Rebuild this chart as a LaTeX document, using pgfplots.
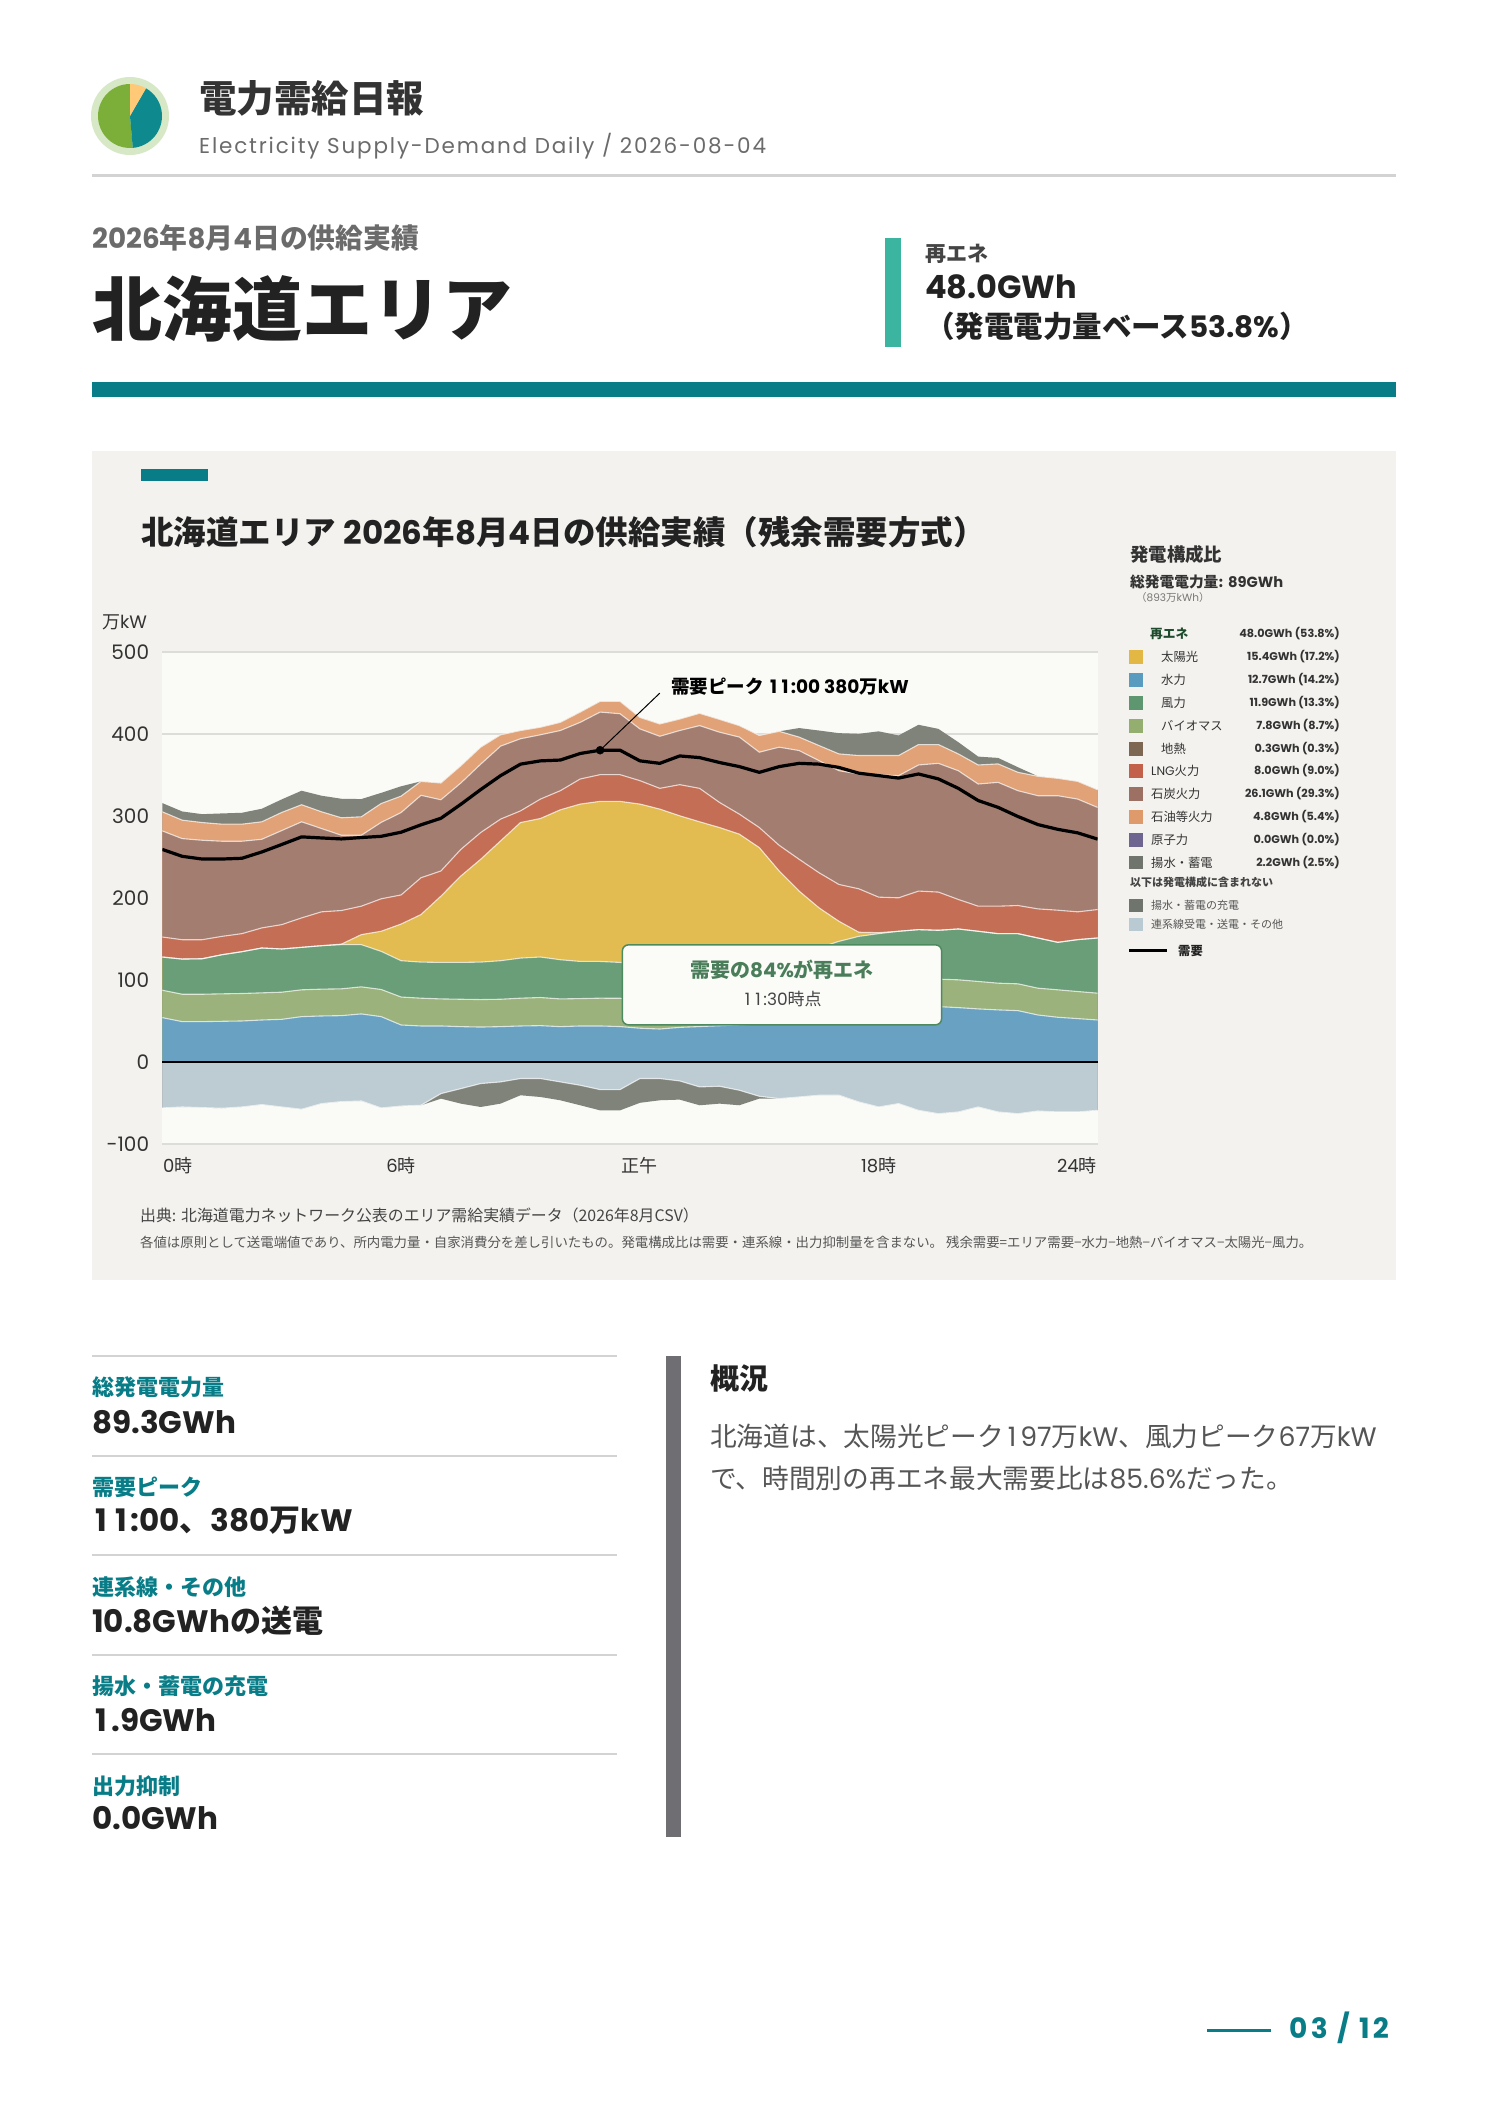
\documentclass[border=0pt]{standalone}
\usepackage{fontspec}
\setmainfont{Noto Sans CJK JP}
\newfontfamily\lat{Poppins}[Numbers=Monospaced]
\newfontfamily\latls{Poppins}[LetterSpace=8.5]
\newfontfamily\latft{Poppins}[LetterSpace=12, Numbers=Monospaced]
\usepackage{pgfplots}
\pgfplotsset{compat=1.18}
\usepackage{pgfplotstable}
\newcommand{\fz}[1]{\fontsize{#1bp}{#1bp}\selectfont}
\newcommand{\wone}{\makebox[0.62em][c]{1}}

\definecolor{cpanel}{HTML}{F3F2EE}
\definecolor{cplot}{HTML}{FAFAF6}
\definecolor{cgrid}{HTML}{DCDCD8}
\definecolor{csolar}{HTML}{E2BC50}
\definecolor{chydro}{HTML}{68A1C1}
\definecolor{cwind}{HTML}{6A9E78}
\definecolor{cbio}{HTML}{9BB27C}
\definecolor{clng}{HTML}{C46E56}
\definecolor{ccoal}{HTML}{A27D70}
\definecolor{coil}{HTML}{E0A276}
\definecolor{cpump}{HTML}{7F837A}
\definecolor{cint}{HTML}{BDCCD3}
\definecolor{sSolar}{HTML}{E3B743}
\definecolor{sHydro}{HTML}{5A9CBF}
\definecolor{sWind}{HTML}{5E9670}
\definecolor{sBio}{HTML}{93AE6E}
\definecolor{sGeo}{HTML}{7E6752}
\definecolor{sLng}{HTML}{C2604A}
\definecolor{sCoal}{HTML}{9C7164}
\definecolor{sOil}{HTML}{DE9A6A}
\definecolor{sNuc}{HTML}{6E6690}
\definecolor{sPump}{HTML}{6F746C}
\definecolor{sInt}{HTML}{B9CAD3}
\definecolor{cteal}{HTML}{087D87}
\definecolor{ctealg}{HTML}{3BB5A0}
\definecolor{cboxg}{HTML}{4E8A60}
\definecolor{ctxtg}{HTML}{4A7D59}
\definecolor{cdkg}{HTML}{1D4B2C}
\definecolor{c222}{HTML}{222222}
\definecolor{c333}{HTML}{333333}
\definecolor{c444}{HTML}{444444}
\definecolor{c555}{HTML}{555555}
\definecolor{c666}{HTML}{6B6B6B}
\definecolor{c777}{HTML}{777777}
\definecolor{crule}{HTML}{D3D3D3}
\definecolor{cbar}{HTML}{6F6F73}
\definecolor{lgreen}{HTML}{7BAF3A}
\definecolor{lring}{HTML}{D6E8C6}
\definecolor{lteal}{HTML}{0E8A8E}
\definecolor{lyellow}{HTML}{FFC978}
\definecolor{cbox}{HTML}{FBFBF8}

% cumulative upper boundaries of each layer (万kW), demand, and negative layers
\pgfplotstableread{
t hyd bio wind solar lng coal oil pump dem n1 n2
0 53.9 87.3 127.8 127.8 152.2 281.6 304.9 315.5 259.0 -56.3 -56.3
0.5 49.0 82.4 125.3 125.3 148.9 272.2 294.7 305.3 250.6 -55.1 -55.1
1 49.0 82.4 125.7 125.7 148.9 270.2 291.8 302.0 247.3 -55.9 -55.9
1.5 49.4 82.9 130.6 130.6 153.0 269.0 289.8 302.9 247.3 -56.7 -56.7
2 49.8 83.3 134.3 134.3 156.3 269.0 289.8 303.7 248.2 -55.1 -55.1
2.5 51.0 84.1 138.8 138.8 163.3 271.4 292.7 308.6 255.9 -52.2 -52.2
3 51.8 84.9 137.6 137.6 167.3 282.0 304.1 320.0 265.0 -55.1 -55.1
3.5 55.1 87.8 139.6 139.6 175.5 292.7 313.5 330.6 274.3 -57.9 -57.9
4 55.9 88.6 141.6 141.6 182.9 284.5 304.9 324.5 273.0 -51.0 -51.0
4.5 56.3 89.0 142.9 143.5 184.5 276.3 297.6 320.8 271.8 -48.6 -48.6
5 58.4 91.4 142.9 155.1 189.8 276.3 298.8 320.4 273.5 -47.8 -47.8
5.5 55.1 88.2 134.7 159.2 198.8 292.0 315.0 328.0 275.0 -56.3 -56.3
6 44.9 79.0 123.3 168.0 203.5 304.0 324.0 336.0 280.0 -54.0 -54.0
6.5 43.7 77.6 121.6 179.6 224.5 325.0 342.0 342.0 289.0 -53.0 -53.0
7 43.7 76.7 121.2 202.0 232.7 319.6 340.0 340.0 297.0 -38.8 -44.9
7.5 42.9 76.3 121.2 226.5 259.0 340.0 361.0 361.0 314.0 -32.7 -51.0
8 42.4 75.9 121.6 247.0 279.6 363.0 383.7 383.7 332.0 -26.5 -55.1
8.5 42.9 76.3 123.3 269.4 296.0 385.0 398.8 398.8 349.0 -24.5 -51.0
9 43.7 77.6 126.5 291.8 306.0 394.0 404.0 404.0 363.0 -20.4 -40.8
9.5 44.1 78.4 127.8 296.7 320.4 398.8 408.0 408.0 367.0 -20.4 -42.9
10 42.9 76.7 124.5 307.3 330.6 404.0 414.0 414.0 368.0 -24.5 -46.9
10.5 43.7 77.1 122.4 314.3 344.9 414.0 426.5 426.5 376.0 -28.6 -53.0
11 43.7 77.6 122.4 317.6 350.2 426.5 439.6 439.6 380.0 -33.9 -59.2
11.5 43.0 77.5 121.2 317.6 350.2 424.5 439.6 439.6 380.0 -33.9 -59.2
12 41.0 76.0 120.0 314.3 342.9 406.0 420.0 420.0 367.0 -20.4 -50.0
12.5 40.0 76.0 120.0 308.2 333.5 397.0 412.0 412.0 364.0 -20.4 -46.9
13 42.0 77.0 121.0 300.0 338.0 404.0 418.0 418.0 373.0 -23.3 -46.1
13.5 43.0 78.0 122.0 292.7 333.5 410.0 425.0 425.0 371.0 -30.6 -53.0
14 44.0 79.0 124.0 285.7 316.3 402.0 417.6 417.6 365.0 -29.8 -51.0
14.5 45.0 80.0 126.0 277.6 302.0 396.0 410.0 410.0 360.0 -34.7 -53.0
15 46.0 81.0 128.0 261.2 285.7 377.6 398.0 398.0 353.0 -42.0 -44.9
15.5 47.0 82.0 131.0 232.7 264.0 383.7 403.0 403.0 360.0 -44.9 -44.9
16 48.0 83.0 135.0 208.2 247.0 379.6 396.0 407.0 364.0 -42.9 -42.9
16.5 50.0 85.0 139.0 187.8 230.6 367.3 385.7 404.0 363.0 -40.8 -40.8
17 52.0 88.0 146.9 171.4 216.3 355.0 375.5 400.8 359.0 -40.8 -40.8
17.5 55.0 92.0 153.0 158.0 211.0 351.0 373.5 400.0 352.0 -49.0 -49.0
18 58.0 95.0 156.3 157.5 200.8 350.0 373.5 403.0 349.0 -55.1 -55.1
18.5 62.0 98.0 159.2 159.2 200.0 349.0 373.5 398.0 346.0 -51.0 -51.0
19 65.0 100.0 161.2 161.2 208.2 362.0 386.9 411.0 351.0 -59.2 -59.2
19.5 67.3 100.8 160.4 160.4 207.0 364.0 386.9 406.0 345.0 -63.3 -63.3
20 66.1 100.0 162.0 162.0 198.0 355.0 375.5 389.8 333.5 -61.2 -61.2
20.5 64.5 98.0 159.2 159.2 189.8 338.8 362.0 372.2 318.6 -55.1 -55.1
21 63.3 95.9 156.3 156.3 189.8 340.8 363.3 370.6 310.3 -61.2 -61.2
21.5 62.4 95.1 156.3 156.3 190.6 330.6 353.0 359.2 299.1 -63.3 -63.3
22 57.1 89.8 151.0 151.0 186.5 324.5 348.2 348.2 289.3 -60.0 -60.0
22.5 54.3 87.8 145.7 145.7 184.9 324.5 345.7 345.7 283.5 -61.2 -61.2
23 52.7 85.7 149.0 149.0 182.9 320.4 342.0 342.0 279.2 -61.2 -61.2
23.5 51.0 83.7 151.0 151.0 185.7 310.2 331.8 331.8 271.6 -59.2 -59.2
}\supply

\begin{document}
\begin{tikzpicture}
\path[use as bounding box, fill=white] (0bp,0bp) rectangle (1488bp,-2105bp);

% ---------- header ----------
\fill[lring] (130bp,-116bp) circle (39bp);
\fill[lgreen] (130bp,-116bp) -- ++(90:32bp) arc[start angle=90, end angle=275, radius=32bp] -- cycle;
\fill[lteal] (130bp,-116bp) -- ++(275:32bp) arc[start angle=275, end angle=420, radius=32bp] -- cycle;
\fill[lyellow] (130bp,-116bp) -- ++(60:32bp) arc[start angle=60, end angle=90, radius=32bp] -- cycle;

\begin{scope}[x=1bp,y=-1bp, every node/.style={inner sep=0pt}]
\node[anchor=west, text=c333, font=\fz{37.5}\bfseries] at (199,98) {電力需給日報};
\node[anchor=west, text=c666, font=\latls\fz{21.5}] at (199,146) {Electricity Supply-Demand Daily / 2026-08-04};
\fill[crule] (92,173.8) rectangle (1396,176.5);

\node[anchor=west, text=c666, font=\fz{27.8}\bfseries] at (92,238) {{\lat 2026}年{\lat 8}月{\lat 4}日の供給実績};
\node[anchor=west, text=c222, font=\fz{70}\bfseries] at (92,309) {北海道エリア};

\fill[ctealg] (885,238) rectangle (901,347);
\node[anchor=west, text=c444, font=\fz{21}\bfseries] at (925,254) {再エネ};
\node[anchor=west, text=c222, font=\lat\fz{32}\bfseries] at (925,287) {48.0GWh};
\node[anchor=west, text=c222, font=\fz{29.5}\bfseries] at (925,326) {（発電電力量ベース{\lat 53.8\%}）};

\fill[cteal] (92,382) rectangle (1396,397);

% ---------- chart panel ----------
\fill[cpanel] (92,451) rectangle (1396,1280);
\fill[cteal] (141,469) rectangle (208,481);
\node[anchor=west, text=c222, font=\fz{32.5}\bfseries] at (141,532) {北海道エリア {\lat 2026}年{\lat 8}月{\lat 4}日の供給実績（残余需要方式）};
\node[anchor=west, text=c333, font=\fz{18}] at (102,622) {万{\lat kW}};
\node[anchor=west, text=c333, font=\fz{18}] at (163,1166) {{\lat 0}時};
\node[anchor=east, text=c333, font=\fz{18}] at (1097,1166) {{\lat 24}時};
\end{scope}

\begin{axis}[
  at={(162.3bp,-1143.8bp)}, anchor=south west,
  scale only axis, width=935.3bp, height=492bp,
  xmin=0, xmax=23.5, ymin=-100, ymax=500,
  axis background/.style={fill=cplot},
  axis line style={draw=none},
  major tick style={draw=none},
  ytick={-100,0,100,200,300,400,500},
  yticklabels={-100,0,100,200,300,400,500},
  yticklabel style={font=\lat\fz{20}, text=c333, anchor=east, inner sep=0pt, xshift=-13bp},
  xtick={6,12,18},
  xticklabels={{\lat 6}時,正午,{\lat 18}時},
  xticklabel style={font=\fz{18}, text=c333, anchor=center, inner sep=0pt, yshift=-22bp},
  ymajorgrids, grid style={draw=cgrid, line width=1.5bp},
  clip mode=individual,
]
% stacked supply (painted from the top boundary down)
\addplot[fill=cpump, draw=none] table[x=t,y=pump]{\supply} \closedcycle;
\addplot[fill=coil, draw=none] table[x=t,y=oil]{\supply} \closedcycle;
\addplot[fill=ccoal, draw=none] table[x=t,y=coal]{\supply} \closedcycle;
\addplot[fill=clng, draw=none] table[x=t,y=lng]{\supply} \closedcycle;
\addplot[fill=csolar, draw=none] table[x=t,y=solar]{\supply} \closedcycle;
\addplot[fill=cwind, draw=none] table[x=t,y=wind]{\supply} \closedcycle;
\addplot[fill=cbio, draw=none] table[x=t,y=bio]{\supply} \closedcycle;
\addplot[fill=chydro, draw=none] table[x=t,y=hyd]{\supply} \closedcycle;
% negative side
\addplot[fill=cpump, draw=none] table[x=t,y=n2]{\supply} \closedcycle;
\addplot[fill=cint, draw=none] table[x=t,y=n1]{\supply} \closedcycle;
% separators
\pgfplotsinvokeforeach{oil,coal,lng,solar,wind,bio,hyd,n1}{
  \addplot[draw=white, line width=1.1bp, opacity=0.7] table[x=t,y=#1]{\supply};
}
\draw[black, line width=2.6bp] (axis cs:0,0) -- (axis cs:23.5,0);
% demand
\addplot[black, line width=3.2bp, line join=round] table[x=t,y=dem]{\supply};
\addplot[only marks, mark=*, mark size=4bp, black] coordinates {(11,380)};
\draw[black, line width=1bp] (axis cs:11,380) -- (axis cs:12.5,449.6);
\node[anchor=west, inner sep=0pt, text=black, font=\fz{18.5}\bfseries] at (axis cs:12.78,457.5) {需要ピーク {\lat \wone\wone:00 380}万{\lat kW}};
% callout box
\draw[cboxg, line width=1.5bp, fill=cbox, rounded corners=6bp] (axis cs:11.56,142.6) rectangle (axis cs:19.58,45.1);
\node[inner sep=0pt, text=ctxtg, font=\fz{20}\bfseries] at (axis cs:15.57,111.8) {需要の{\lat 84\%}が再エネ};
\node[inner sep=0pt, text=c444, font=\fz{17}] at (axis cs:15.57,77.1) {{\lat \wone\wone:30}時点};
\end{axis}

\begin{scope}[x=1bp,y=-1bp, every node/.style={inner sep=0pt}]
% ---------- legend ----------
\node[anchor=west, text=c333, font=\fz{18.4}\bfseries] at (1130,554) {発電構成比};
\node[anchor=west, text=c333, font=\fz{14.7}\bfseries] at (1130,581.5) {総発電電力量: {\lat 89GWh}};
\node[anchor=west, text=c777, font=\fz{10.5}] at (1136,597.5) {（{\lat 893}万{\lat kWh}）};

\node[anchor=west, text=cdkg, font=\fz{12.7}\bfseries] at (1150,633.7) {再エネ};
\node[anchor=east, text=c333, font=\lat\fz{11.2}\bfseries] at (1340,633.7) {48.0GWh (53.8\%)};

\foreach \yy/\cc/\xx/\lab/\val in {
  657/sSolar/1161/太陽光/15.4GWh (17.2\%),
  680/sHydro/1161/水力/12.7GWh (14.2\%),
  703/sWind/1161/風力/11.9GWh (13.3\%),
  726/sBio/1161/バイオマス/7.8GWh (8.7\%),
  749/sGeo/1161/地熱/0.3GWh (0.3\%),
  771/sLng/1151/{\lat LNG}火力/8.0GWh (9.0\%),
  794/sCoal/1151/石炭火力/26.1GWh (29.3\%),
  817/sOil/1151/石油等火力/4.8GWh (5.4\%),
  840/sNuc/1151/原子力/0.0GWh (0.0\%),
  862.7/sPump/1151/揚水・蓄電/2.2GWh (2.5\%)}{
  \fill[\cc] (1129,\yy-6.7) rectangle (1143,\yy+6.7);
  \node[anchor=west, text=c333, font=\fz{12.3}] at (\xx,\yy) {\lab};
  \node[anchor=east, text=c333, font=\lat\fz{11.2}\bfseries] at (1340,\yy) {\val};
}
\node[anchor=west, text=c444, font=\fz{11}\bfseries] at (1130,882) {以下は発電構成に含まれない};
\fill[sPump] (1129,899) rectangle (1143,912);
\node[anchor=west, text=c555, font=\fz{11}] at (1151,905.5) {揚水・蓄電の充電};
\fill[sInt] (1129,918) rectangle (1143,931);
\node[anchor=west, text=c555, font=\fz{11}] at (1151,924.5) {連系線受電・送電・その他};
\draw[black, line width=3bp] (1129,950.7) -- (1167,950.7);
\node[anchor=west, text=c222, font=\fz{12.3}\bfseries] at (1178,950.7) {需要};

% ---------- notes ----------
\node[anchor=west, text=c444, font=\fz{15.9}] at (140,1215) {出典: 北海道電力ネットワーク公表のエリア需給実績データ（2026年8月CSV）};
\node[anchor=west, text=c555, font=\fz{13.4}] at (140,1242) {各値は原則として送電端値であり、所内電力量・自家消費分を差し引いたもの。発電構成比は需要・連系線・出力抑制量を含まない。 残余需要=エリア需要−水力−地熱−バイオマス−太陽光−風力。};

% ---------- stats ----------
\foreach \yy in {1356,1456,1555,1655,1754}{\fill[crule] (92,\yy-1.2) rectangle (617,\yy+1.2);}
\node[anchor=west, text=cteal, font=\fz{22}\bfseries] at (92,1387.5) {総発電電力量};
\node[anchor=west, text=c222, font=\fz{31}\bfseries] at (92,1422.5) {{\lat 89.3GWh}};
\node[anchor=west, text=cteal, font=\fz{22}\bfseries] at (92,1487.5) {需要ピーク};
\node[anchor=west, text=c222, font=\fz{31}\bfseries] at (92,1521) {{\lat \wone\wone:00}、{\lat 380}万{\lat kW}};
\node[anchor=west, text=cteal, font=\fz{22}\bfseries] at (92,1587) {連系線・その他};
\node[anchor=west, text=c222, font=\fz{31}\bfseries] at (92,1620.5) {{\lat 10.8GWh}の送電};
\node[anchor=west, text=cteal, font=\fz{22}\bfseries] at (92,1686) {揚水・蓄電の充電};
\node[anchor=west, text=c222, font=\fz{31}\bfseries] at (92,1720) {{\lat \wone.9GWh}};
\node[anchor=west, text=cteal, font=\fz{22}\bfseries] at (92,1786) {出力抑制};
\node[anchor=west, text=c222, font=\fz{31}\bfseries] at (92,1818.5) {{\lat 0.0GWh}};

\fill[cbar] (666,1356) rectangle (681,1837);
\node[anchor=west, text=c222, font=\fz{29}\bfseries] at (710,1379) {概況};
\node[anchor=west, text=c555, font=\fz{26.7}] at (710,1436) {北海道は、太陽光ピーク{\lat \wone 97}万{\lat kW}、風力ピーク{\lat 67}万{\lat kW}};
\node[anchor=west, text=c555, font=\fz{26.7}] at (710,1478) {で、時間別の再エネ最大需要比は{\lat 85.6\%}だった。};

% ---------- footer ----------
\draw[cteal, line width=3bp] (1207,2030) -- (1271,2030);
\node[anchor=west, text=cteal, font=\latft\fz{28}\bfseries] at (1289,2028) {03 / 12};
\end{scope}
\end{tikzpicture}
\end{document}
